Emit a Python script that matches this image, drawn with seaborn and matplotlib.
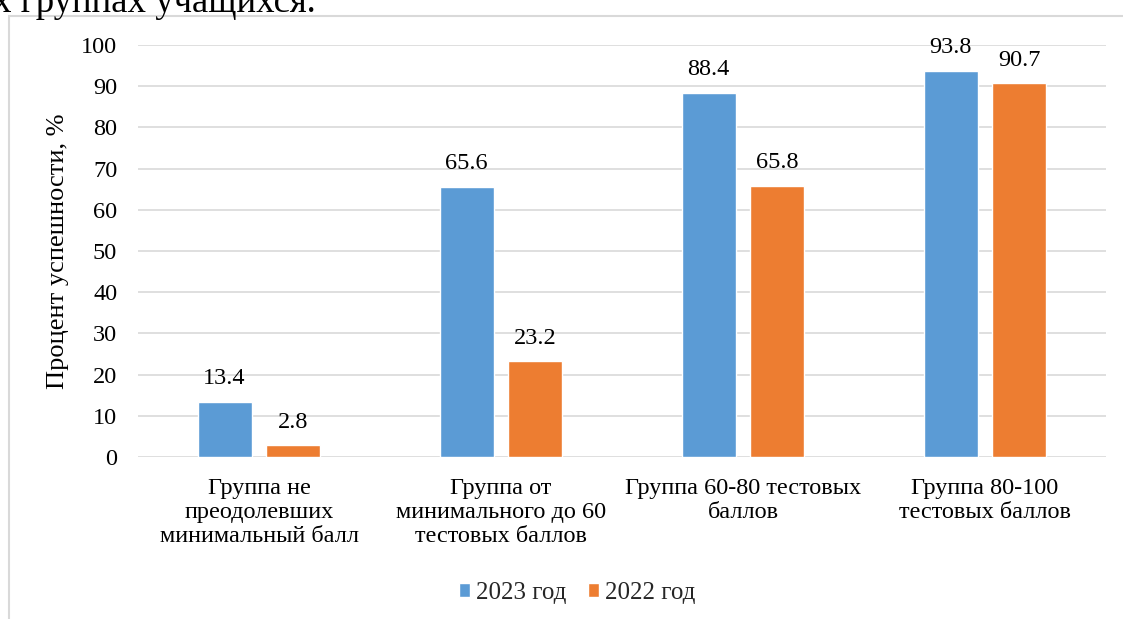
import matplotlib
matplotlib.use("Agg")
import matplotlib.pyplot as plt
import seaborn as sns
import pandas as pd
from matplotlib.patches import Rectangle

categories = [
    "Группа не\nпреодолевших\nминимальный балл",
    "Группа от\nминимального до 60\nтестовых баллов",
    "Группа 60-80 тестовых\nбаллов",
    "Группа 80-100\nтестовых баллов",
]
series_names = ["2023 год", "2022 год"]
values_2023 = [13.4, 65.6, 88.4, 93.8]
values_2022 = [2.8, 23.2, 65.8, 90.7]
colors = ["#5B9BD5", "#ED7D31"]
yticks = [0, 10, 20, 30, 40, 50, 60, 70, 80, 90, 100]

df = pd.DataFrame({
    "cat": categories * 2,
    "series": [series_names[0]] * 4 + [series_names[1]] * 4,
    "value": values_2023 + values_2022,
})

sns.set_theme(style="white")
SERIF = ["Liberation Serif", "DejaVu Serif"]
plt.rcParams["font.family"] = SERIF
plt.rcParams["font.serif"] = SERIF
FS = 17.5

W, H = 1123, 619
fig = plt.figure(figsize=(W / 100, H / 100), dpi=100)
ax = fig.add_axes([138 / W, 1 - 457 / H, (1106 - 138) / W, (457 - 45) / H])

sns.barplot(data=df, x="cat", y="value", hue="series", order=categories,
            hue_order=series_names, palette=colors, width=0.57, gap=0.217,
            saturation=1, ax=ax, legend=True, errorbar=None)

for cont in ax.containers:
    ax.bar_label(cont, labels=[f"{v.get_height():.1f}" for v in cont],
                 padding=9, fontsize=FS, color="#000000", family=SERIF)

ax.set_ylim(0, 100)
ax.set_yticks(yticks, [str(t) for t in yticks], fontsize=FS, family=SERIF)
ax.set_xticks(range(len(categories)), categories, fontsize=FS, family=SERIF,
              linespacing=1.2)
ax.yaxis.grid(True, color="#D9D9D9", linewidth=1.2)
ax.set_axisbelow(True)
for s in ax.spines.values():
    s.set_visible(False)
ax.tick_params(axis="y", length=0, pad=15, labelcolor="black")
ax.tick_params(axis="x", length=0, pad=15, labelcolor="black")
ax.set_xlabel("")
ax.set_ylabel("Процент успешности, %", fontsize=19, color="black",
              labelpad=9, family=SERIF)

handles, labels = ax.get_legend_handles_labels()
ax.get_legend().remove()
fig.legend(handles, labels, loc="center", bbox_to_anchor=(577 / W, 1 - 593 / H),
           ncol=2, frameon=False, prop={"family": SERIF, "size": 18},
           handlelength=0.45, handleheight=0.45, handletextpad=0.25,
           columnspacing=0.85)

# chart frame (cut off at right and bottom)
fig.patches.append(Rectangle((9 / W, -0.1), 1.2, 1 - 16 / H + 0.1,
                             transform=fig.transFigure, fill=False,
                             edgecolor="#D9D9D9", linewidth=1.5))

# cut-off document text at top
fig.text(-7 / W, 1 - 12 / H, "х группах учащихся.", fontsize=26.5,
         ha="left", va="baseline", color="black", family=SERIF)

fig.savefig("out.png", dpi=100)
